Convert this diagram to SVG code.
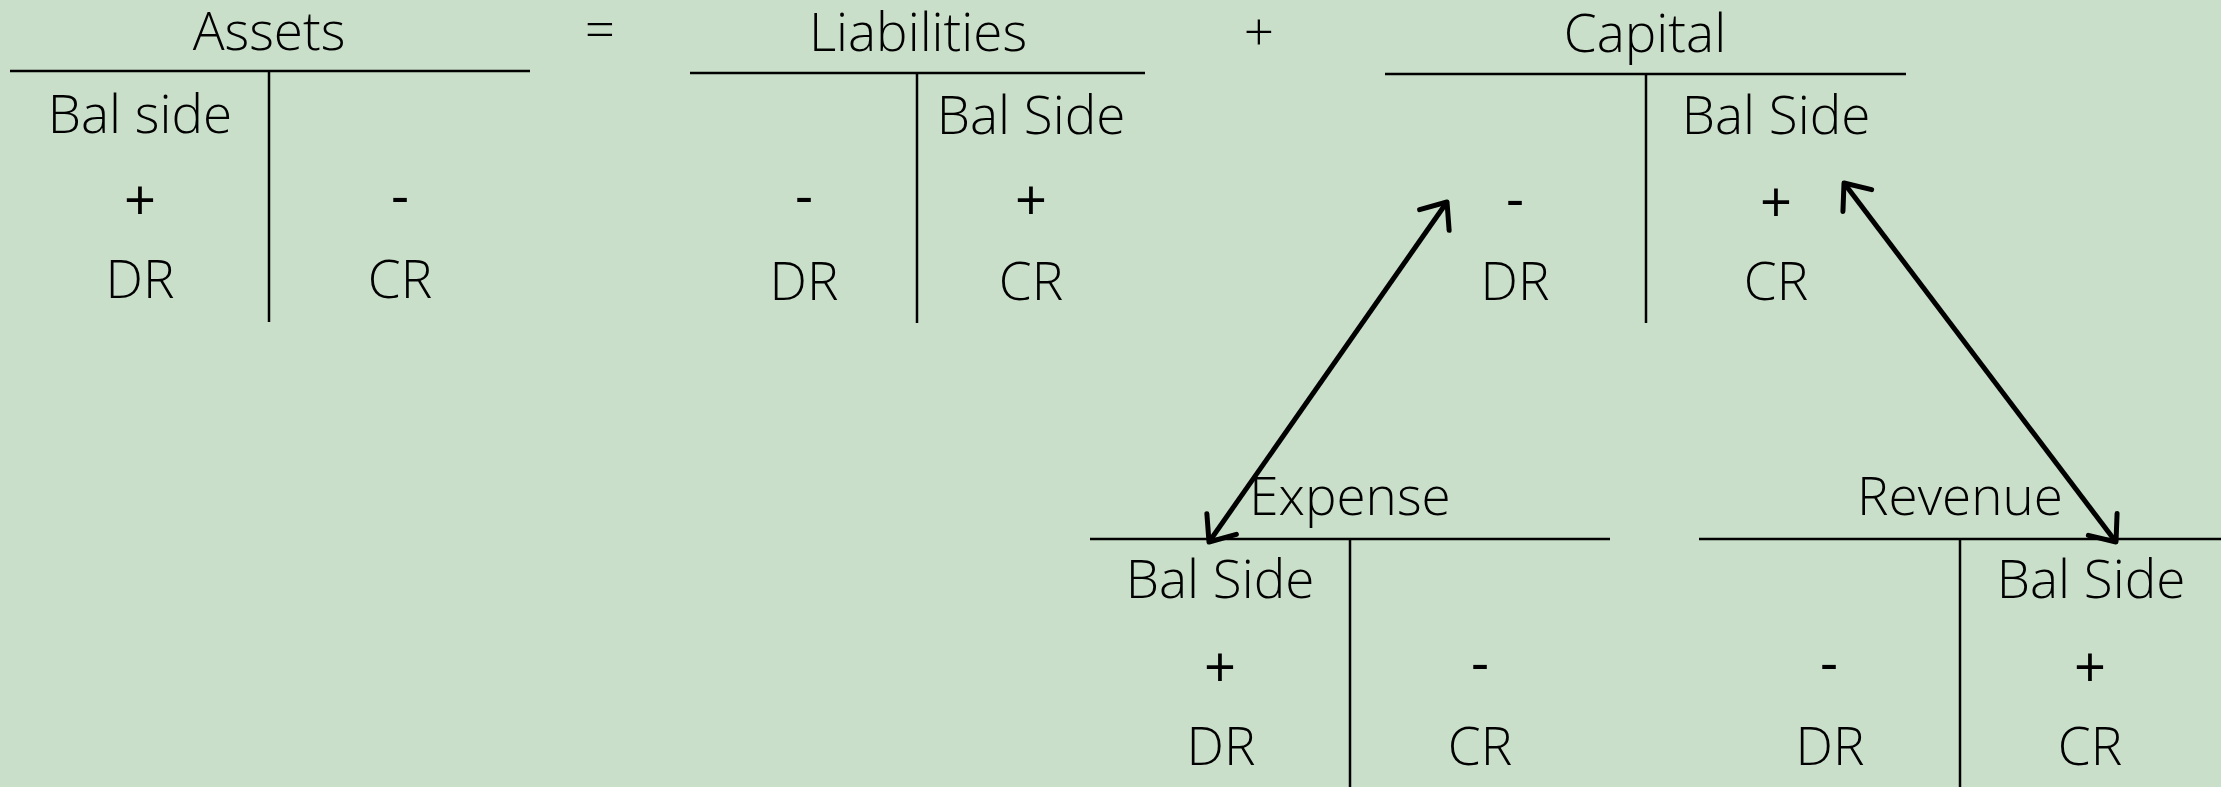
<svg xmlns="http://www.w3.org/2000/svg" width="2221" height="787" viewBox="0 0 2221 787">
<style>
  text { font-family: "Open Sans", "Lato", "Liberation Sans", sans-serif; font-weight: 300; font-size: 53px; fill: #000; text-anchor: middle; }
  .sign { font-weight: 500; font-size: 56px; }
  .t { stroke: #000; stroke-width: 2.5; fill: none; }
  .arrow { stroke: #000; stroke-width: 5; fill: none; marker-start: url(#head); marker-end: url(#head); }
</style>
<defs>
  <marker id="head" markerUnits="userSpaceOnUse" orient="auto-start-reverse" refX="0" refY="0" viewBox="-32 -28 38 56" markerWidth="38" markerHeight="56">
    <path d="M-22,-18 L0,0 L-22,18" stroke="#000" stroke-width="5" fill="none" stroke-linecap="round" stroke-linejoin="round"/>
  </marker>
</defs>
<rect x="0" y="0" width="2221" height="787" fill="#C9DFC9"/>

<g id="assets">
  <line class="t" x1="10" y1="71" x2="530" y2="71"/>
  <line class="t" x1="269" y1="71" x2="269" y2="322"/>
  <text x="269" y="50">Assets</text>
  <text x="140" y="133">Bal side</text>
  <text class="sign" x="140" y="220">+</text>
  <text class="sign" x="400" y="215">-</text>
  <text x="140" y="298">DR</text>
  <text x="400" y="298">CR</text>
</g>

<text id="equals" x="600" y="48">=</text>

<g id="liabilities">
  <line class="t" x1="690" y1="73" x2="1145" y2="73"/>
  <line class="t" x1="917" y1="73" x2="917" y2="323"/>
  <text x="918" y="51">Liabilities</text>
  <text x="1031" y="134">Bal Side</text>
  <text class="sign" x="804" y="215">-</text>
  <text class="sign" x="1031" y="220">+</text>
  <text x="804" y="300">DR</text>
  <text x="1031" y="300">CR</text>
</g>

<text id="plus" x="1259" y="51">+</text>

<g id="capital">
  <line class="t" x1="1385" y1="74" x2="1906" y2="74"/>
  <line class="t" x1="1646" y1="74" x2="1646" y2="323"/>
  <text x="1645" y="52">Capital</text>
  <text x="1776" y="134">Bal Side</text>
  <text class="sign" x="1515" y="218">-</text>
  <text class="sign" x="1776" y="222">+</text>
  <text x="1515" y="300">DR</text>
  <text x="1776" y="300">CR</text>
</g>

<g id="expense">
  <line class="t" x1="1090" y1="539" x2="1610" y2="539"/>
  <line class="t" x1="1350" y1="539" x2="1350" y2="787"/>
  <text x="1350" y="515">Expense</text>
  <text x="1220" y="598">Bal Side</text>
  <text class="sign" x="1220" y="687">+</text>
  <text class="sign" x="1480" y="682">-</text>
  <text x="1221" y="765">DR</text>
  <text x="1480" y="765">CR</text>
</g>

<g id="revenue">
  <line class="t" x1="1699" y1="539" x2="2221" y2="539"/>
  <line class="t" x1="1960" y1="539" x2="1960" y2="787"/>
  <text x="1960" y="515">Revenue</text>
  <text x="2091" y="598">Bal Side</text>
  <text class="sign" x="1829" y="682">-</text>
  <text class="sign" x="2090" y="687">+</text>
  <text x="1830" y="765">DR</text>
  <text x="2090" y="765">CR</text>
</g>

<g id="connectors">
  <line class="arrow" x1="1209" y1="542" x2="1447" y2="202"/>
  <line class="arrow" x1="1844" y1="183" x2="2116" y2="542"/>
</g>
</svg>
